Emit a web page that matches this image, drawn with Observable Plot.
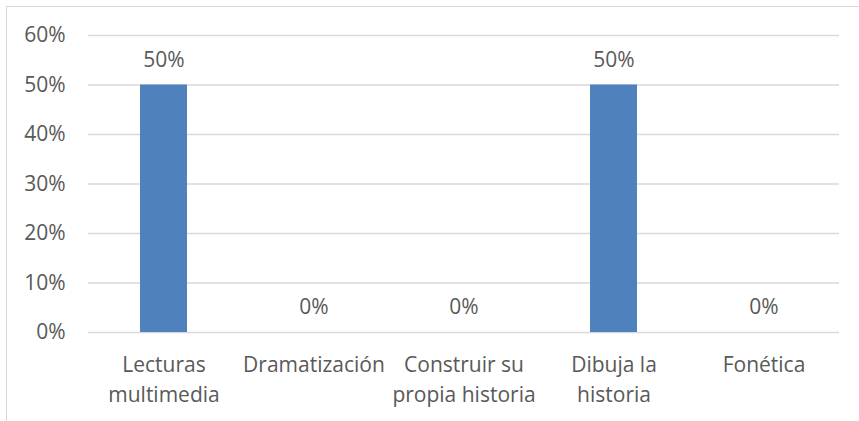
<!DOCTYPE html>
<html>
<head>
<meta charset="utf-8">
<script src="https://cdn.jsdelivr.net/npm/d3@7"></script>
<script src="https://cdn.jsdelivr.net/npm/@observablehq/plot@0.6"></script>
<style>
  html, body { margin: 0; padding: 0; background: #fff; overflow: hidden; }
  #wrap { position: relative; width: 859px; height: 421px; }
  #border { position: absolute; left: 6px; top: 6px; width: 900px; height: 500px; border: 1px solid #d9d9d9; box-sizing: border-box; }
  #chart { position: absolute; left: 0; top: 0; }
</style>
</head>
<body>
<div id="wrap"><div id="border"></div><div id="chart"></div></div>
<script>
const categories = ["Lecturas multimedia", "Dramatización", "Construir su propia historia", "Dibuja la historia", "Fonética"];
const tickLabels = ["Lecturas\nmultimedia", "Dramatización", "Construir su\npropia historia", "Dibuja la\nhistoria", "Fonética"];
const values = [0.5, 0, 0, 0.5, 0];
const yTicks = [0, 0.1, 0.2, 0.3, 0.4, 0.5, 0.6];

const data = categories.map((c, i) => ({category: c, value: values[i]}));
const labelOf = new Map(categories.map((c, i) => [c, tickLabels[i]]));
const font = "'Open Sans', sans-serif";
const textColor = "#595959";
const fs = 21;

const chart = Plot.plot({
  width: 859,
  height: 421,
  marginLeft: 88,
  marginRight: 20,
  marginTop: 35,
  marginBottom: 89,
  style: {fontFamily: font, fontSize: fs + "px", color: textColor, background: "transparent", overflow: "visible"},
  x: {domain: categories, paddingInner: 0.687, paddingOuter: 0.3435, align: 0.5},
  y: {domain: [0, 0.6]},
  marks: [
    Plot.ruleY(yTicks, {stroke: "#d9d9d9", strokeWidth: 1.4}),
    Plot.axisY({ticks: yTicks, tickFormat: d3.format(".0%"), tickSize: 0, tickPadding: 23, fontSize: fs, fill: textColor, label: null}),
    Plot.axisX({tickSize: 0, tickPadding: 18, tickFormat: d => labelOf.get(d), lineHeight: 1.43, fontSize: fs, fill: textColor, label: null}),
    Plot.barY(data, {x: "category", y: "value", fill: "#4f81bd"}),
    Plot.text(data, {x: "category", y: "value", text: d => d3.format(".0%")(d.value), dy: -25, fontSize: fs, fill: textColor})
  ]
});
document.getElementById("chart").appendChild(chart);
</script>
</body>
</html>
